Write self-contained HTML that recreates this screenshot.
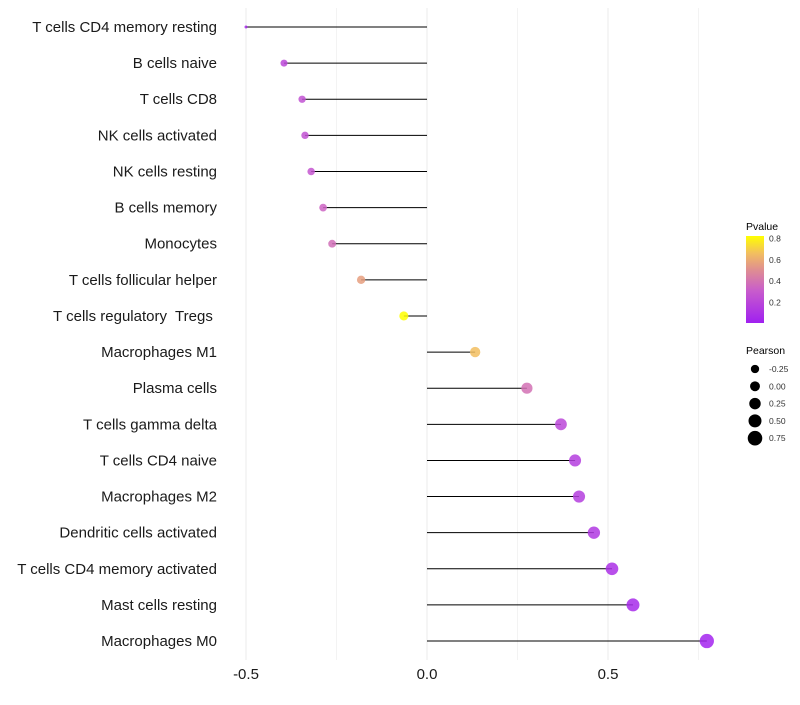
<!DOCTYPE html>
<html><head><meta charset="utf-8"><style>
body{margin:0;background:#fff;font-family:"Liberation Sans",sans-serif}
</style></head><body>
<svg id="c" width="800" height="700" xmlns="http://www.w3.org/2000/svg">
<defs><linearGradient id="pg" x1="0" y1="1" x2="0" y2="0">
<stop offset="0" stop-color="#a020f0"/><stop offset="0.37" stop-color="#c85ccc"/><stop offset="0.62" stop-color="#e0908f"/><stop offset="0.8" stop-color="#f2be60"/><stop offset="1" stop-color="#ffff00"/></linearGradient></defs>
<g id="grid"></g><g id="marks"></g><g id="axes"></g><g id="legend"></g>
</svg>
<script>
const categories=["T cells CD4 memory resting","B cells naive","T cells CD8","NK cells activated","NK cells resting","B cells memory","Monocytes","T cells follicular helper","T cells regulatory  Tregs ","Macrophages M1","Plasma cells","T cells gamma delta","T cells CD4 naive","Macrophages M2","Dendritic cells activated","T cells CD4 memory activated","Mast cells resting","Macrophages M0"];
const pearson=[-0.50,-0.395,-0.345,-0.337,-0.32,-0.287,-0.262,-0.182,-0.064,0.133,0.276,0.37,0.409,0.42,0.461,0.511,0.569,0.773];
const pvalue=[0.05,0.2,0.25,0.25,0.27,0.33,0.37,0.55,0.81,0.65,0.38,0.2,0.15,0.15,0.12,0.08,0.05,0.02];
const xTicks=[-0.5,0,0.5];
const xTickLabels=["-0.5","0.0","0.5"];
const sizeLegend=[-0.25,0,0.25,0.5,0.75];
const sizeLegendLabels=["-0.25","0.00","0.25","0.50","0.75"];
const pTicks=[0.2,0.4,0.6,0.8];
const NS="http://www.w3.org/2000/svg";
const X=v=>427+v*362;
const Y=i=>27+i*36.12;
const R=v=>v<-0.4?1.5+(v+0.5)*20:3.5+(v+0.4)*3.1;
const stops=[[0,[160,32,240]],[0.3,[200,92,204]],[0.5,[224,144,143]],[0.65,[242,190,96]],[0.81,[255,255,0]]];
function col(p){for(let k=1;k<stops.length;k++){if(p<=stops[k][0]||k==stops.length-1){const a=stops[k-1],b=stops[k];let t=(p-a[0])/(b[0]-a[0]);t=Math.max(0,Math.min(1,t));return 'rgb('+a[1].map((c,j)=>Math.round(c+(b[1][j]-c)*t)).join(',')+')';}}}
function el(tag,attrs,parent,txt){const e=document.createElementNS(NS,tag);for(const k in attrs)e.setAttribute(k,attrs[k]);if(txt!==undefined)e.textContent=txt;document.getElementById(parent).appendChild(e);return e;}
[-0.5,-0.25,0,0.25,0.5,0.75].forEach(v=>{const g=el('line',{x1:X(v),x2:X(v),y1:8,y2:660,stroke:'#ebebeb','stroke-width':xTicks.includes(v)?1:0.6},'grid');

});
categories.forEach((c,i)=>{
const l=el('line',{x1:X(0),x2:X(pearson[i]),y1:Y(i),y2:Y(i),stroke:'#000','stroke-width':1},'marks');


const d=el('circle',{cx:X(pearson[i]),cy:Y(i),r:R(pearson[i]),fill:col(pvalue[i]),'fill-opacity':0.85},'marks');


const t=el('text',{x:217,y:Y(i)+5,'text-anchor':'end','font-size':15,fill:'#1a1a1a','xml:space':'preserve',style:'white-space:pre'},'axes',c);

});
xTicks.forEach((v,i)=>{const t=el('text',{x:X(v),y:679,'text-anchor':'middle','font-size':15,fill:'#1a1a1a'},'axes',xTickLabels[i]);

});
let t=el('text',{x:746,y:230,'font-size':10.5,fill:'#000'},'legend','Pvalue');


const cb=el('rect',{x:746,y:236,width:18,height:87,fill:'url(#pg)'},'legend');


const PY=p=>323-p*(323-238)/0.8;
pTicks.forEach(p=>{const k=el('text',{x:769,y:PY(p)+3.5,'font-size':8.5,fill:'#333'},'legend',p.toFixed(1));

});
t=el('text',{x:746,y:354,'font-size':10.5,fill:'#000'},'legend','Pearson');


sizeLegend.forEach((v,i)=>{const y=369+i*17.3;
const c=el('circle',{cx:755,cy:y,r:R(v)+0.2,fill:'#000'},'legend');


const k=el('text',{x:769,y:y+3,'font-size':8.5,fill:'#333'},'legend',sizeLegendLabels[i]);

});
</script>
</body></html>
